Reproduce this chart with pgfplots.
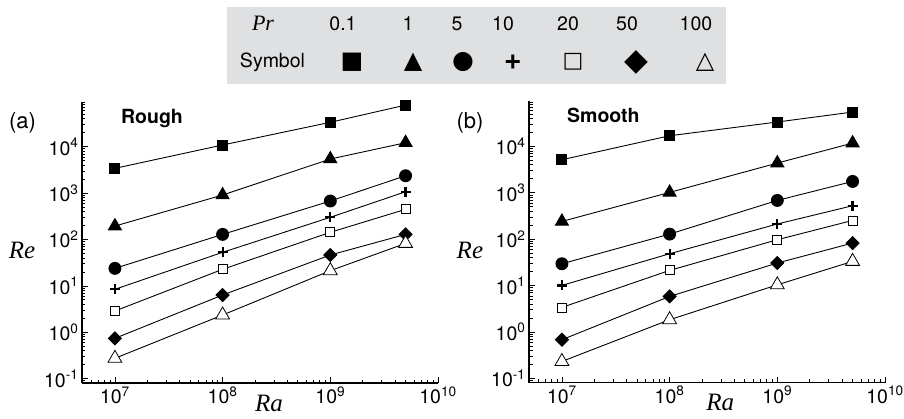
\documentclass[border=0pt]{standalone}
\usepackage{fontspec}
\setmainfont{TeX Gyre Heros}
\newfontfamily\serif{Liberation Serif}
\newfontfamily\symfont{DejaVu Sans}
\usepackage{pgfplots}
\pgfplotsset{compat=1.18}
\definecolor{legbg}{RGB}{223,224,226}
\begin{document}
\begin{tikzpicture}
\useasboundingbox (0,0) rectangle (904pt,418pt);
% legend table
\fill[legbg] (226.7pt,334pt) rectangle (726pt,410.7pt);
\node[anchor=base, inner sep=0, font=\serif\itshape\fontsize{22}{24}\selectfont] at (263pt,387pt) {Pr};
\begin{scope}[every node/.style={anchor=base, inner sep=0, font=\fontsize{19.5}{22}\selectfont}]
\node at (343pt,387.3pt) {0.1};
\node at (408pt,387.3pt) {1};
\node at (457pt,387.3pt) {5};
\node at (503pt,387.3pt) {10};
\node at (568pt,387.3pt) {20};
\node at (627pt,387.3pt) {50};
\node at (696pt,387.3pt) {100};
\node at (272.5pt,350pt) {Symbol};
\end{scope}
\begin{scope}[every node/.style={anchor=center, inner sep=0}]
\node[font=\symfont\fontsize{24}{26}\selectfont] at (352pt,356pt) {■};
\node[font=\symfont\fontsize{24}{26}\selectfont] at (413pt,356pt) {▲};
\node[font=\symfont\fontsize{25}{26}\selectfont] at (463pt,356pt) {●};
\node[font=\bfseries\fontsize{30}{32}\selectfont] at (513pt,356pt) {+};
\node[font=\symfont\fontsize{22}{26}\selectfont] at (573pt,356pt) {□};
\node[font=\symfont\fontsize{31}{32}\selectfont] at (636pt,356pt) {◆};
\node[font=\symfont\fontsize{24}{26}\selectfont] at (705pt,356pt) {△};
\end{scope}
% panel (a)
\begin{axis}[at={(82pt,35pt)}, anchor=south west,
  xmode=log, ymode=log, scale only axis, width=356pt, height=281.2pt,
  xmin=4.95e6, xmax=1e10, ymin=0.0808, ymax=9.3e4,
  axis x line*=bottom, axis y line*=left,
  axis line style={line width=1.1pt, black},
  tick style={line width=0.8pt, black},
  tick align=inside, major tick length=6pt, minor tick length=3.5pt,
  xtick={1e7,1e8,1e9,1e10},
  xticklabels={10\textsuperscript{7},10\textsuperscript{8},10\textsuperscript{9},10\textsuperscript{10}},
  ytick={0.1,1,10,100,1000,10000},
  yticklabels={10\textsuperscript{-1},10\textsuperscript{0},10\textsuperscript{1},10\textsuperscript{2},10\textsuperscript{3},10\textsuperscript{4}},
  minor xtick={5e6,6e6,7e6,8e6,9e6,2e7,3e7,4e7,5e7,6e7,7e7,8e7,9e7,2e8,3e8,4e8,5e8,6e8,7e8,8e8,9e8,2e9,3e9,4e9,5e9,6e9,7e9,8e9,9e9},
  minor ytick={0.09,0.2,0.3,0.4,0.5,0.6,0.7,0.8,0.9,2,3,4,5,6,7,8,9,20,30,40,50,60,70,80,90,200,300,400,500,600,700,800,900,2000,3000,4000,5000,6000,7000,8000,9000,20000,30000,40000,50000,60000,70000,80000,90000},
  tick label style={font=\fontsize{19.5}{22}\selectfont},
  ylabel={Re}, xlabel={Ra},
  ylabel style={rotate=-90, anchor=center, font=\serif\itshape\fontsize{25}{28}\selectfont, at={(axis description cs:-0.1685,0.47)}},
  xlabel style={anchor=base, inner sep=0pt, font=\serif\itshape\fontsize{25}{28}\selectfont, at={(axis description cs:0.525,-0.1)}},
  clip=false]
\addplot[black, line width=0.9pt, mark=square*, mark size=5pt] coordinates {(1e7,3420) (1e8,10900) (1e9,33600) (5e9,79000)};
\addplot[black, line width=0.9pt, mark=triangle*, mark size=7.5pt] coordinates {(1e7,195) (1e8,910) (1e9,5430) (5e9,12200)};
\addplot[black, line width=0.9pt, mark=*, mark size=6pt] coordinates {(1e7,23.9) (1e8,129) (1e9,676) (5e9,2370)};
\addplot[black, line width=0.9pt, mark=+, mark size=5pt, mark options={line width=2.2pt}] coordinates {(1e7,8.45) (1e8,53) (1e9,301) (5e9,1072)};
\addplot[black, line width=0.9pt, mark=square*, mark size=4.5pt, mark options={fill=white, draw=black, line width=0.8pt}] coordinates {(1e7,2.88) (1e8,22.8) (1e9,143) (5e9,448)};
\addplot[black, line width=0.9pt, mark=square*, mark size=4.6pt, mark options={rotate=45}] coordinates {(1e7,0.741) (1e8,6.37) (1e9,46.4) (5e9,129)};
\addplot[black, line width=0.9pt, mark=triangle*, mark size=8pt, mark options={fill=white, draw=black, line width=0.8pt}] coordinates {(1e7,0.275) (1e8,2.36) (1e9,21.3) (5e9,82.6)};
\end{axis}
\node[anchor=base, inner sep=0, font=\fontsize{22}{24}\selectfont] at (22.5pt,289.5pt) {(a)};
\node[anchor=base west, inner sep=0, font=\bfseries\fontsize{19.5}{22}\selectfont] at (121pt,294.7pt) {Rough};
% panel (b)
\begin{axis}[at={(529pt,35.3pt)}, anchor=south west,
  xmode=log, ymode=log, scale only axis, width=356pt, height=281.2pt,
  xmin=4.95e6, xmax=1e10, ymin=0.0808, ymax=9.3e4,
  axis x line*=bottom, axis y line*=left,
  axis line style={line width=1.1pt, black},
  tick style={line width=0.8pt, black},
  tick align=inside, major tick length=6pt, minor tick length=3.5pt,
  xtick={1e7,1e8,1e9,1e10},
  xticklabels={10\textsuperscript{7},10\textsuperscript{8},10\textsuperscript{9},10\textsuperscript{10}},
  ytick={0.1,1,10,100,1000,10000},
  yticklabels={10\textsuperscript{-1},10\textsuperscript{0},10\textsuperscript{1},10\textsuperscript{2},10\textsuperscript{3},10\textsuperscript{4}},
  minor xtick={5e6,6e6,7e6,8e6,9e6,2e7,3e7,4e7,5e7,6e7,7e7,8e7,9e7,2e8,3e8,4e8,5e8,6e8,7e8,8e8,9e8,2e9,3e9,4e9,5e9,6e9,7e9,8e9,9e9},
  minor ytick={0.09,0.2,0.3,0.4,0.5,0.6,0.7,0.8,0.9,2,3,4,5,6,7,8,9,20,30,40,50,60,70,80,90,200,300,400,500,600,700,800,900,2000,3000,4000,5000,6000,7000,8000,9000,20000,30000,40000,50000,60000,70000,80000,90000},
  tick label style={font=\fontsize{19.5}{22}\selectfont},
  ylabel={Re}, xlabel={Ra},
  ylabel style={rotate=-90, anchor=center, font=\serif\itshape\fontsize{25}{28}\selectfont, at={(axis description cs:-0.166,0.47)}},
  xlabel style={anchor=base, inner sep=0pt, font=\serif\itshape\fontsize{25}{28}\selectfont, at={(axis description cs:0.537,-0.1)}},
  clip=false]
\addplot[black, line width=0.9pt, mark=square*, mark size=5pt] coordinates {(1e7,5170) (1e8,17000) (1e9,33600) (5e9,55100)};
\addplot[black, line width=0.9pt, mark=triangle*, mark size=7.5pt] coordinates {(1e7,242) (1e8,1020) (1e9,4380) (5e9,11800)};
\addplot[black, line width=0.9pt, mark=*, mark size=6pt] coordinates {(1e7,29.6) (1e8,129) (1e9,686) (5e9,1760)};
\addplot[black, line width=0.9pt, mark=+, mark size=5pt, mark options={line width=2.2pt}] coordinates {(1e7,10.1) (1e8,48.7) (1e9,213) (5e9,527)};
\addplot[black, line width=0.9pt, mark=square*, mark size=4.5pt, mark options={fill=white, draw=black, line width=0.8pt}] coordinates {(1e7,3.39) (1e8,21.3) (1e9,97.5) (5e9,254)};
\addplot[black, line width=0.9pt, mark=square*, mark size=4.6pt, mark options={rotate=45}] coordinates {(1e7,0.682) (1e8,5.85) (1e9,30.7) (5e9,82.6)};
\addplot[black, line width=0.9pt, mark=triangle*, mark size=8pt, mark options={fill=white, draw=black, line width=0.8pt}] coordinates {(1e7,0.232) (1e8,1.84) (1e9,10.4) (5e9,33.3)};
\end{axis}
\node[anchor=base, inner sep=0, font=\fontsize{22}{24}\selectfont] at (470pt,289.5pt) {(b)};
\node[anchor=base west, inner sep=0, font=\bfseries\fontsize{19.5}{22}\selectfont] at (567pt,295.3pt) {Smooth};
\end{tikzpicture}
\end{document}
